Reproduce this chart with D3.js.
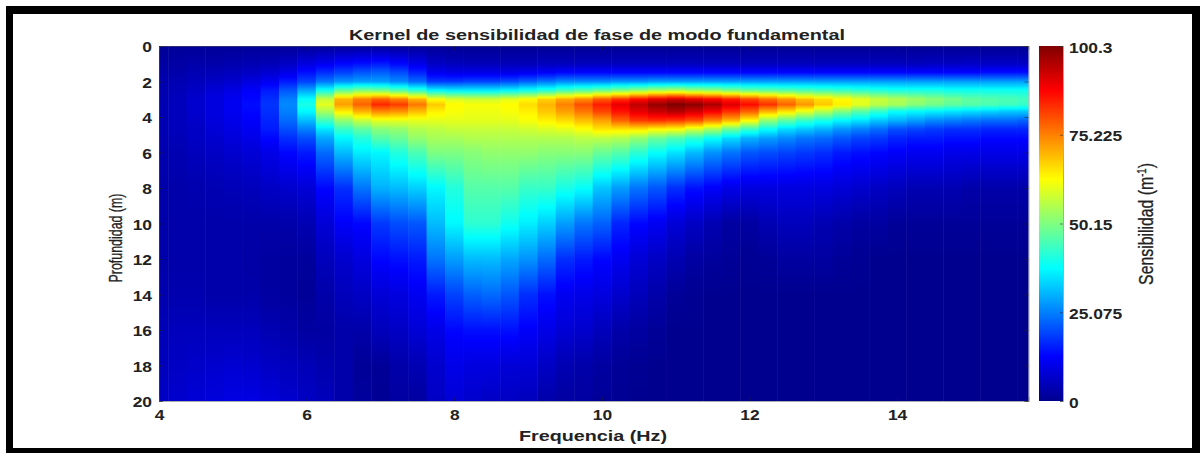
<!DOCTYPE html>
<html><head><meta charset="utf-8">
<script src="https://cdn.jsdelivr.net/npm/d3@7"></script>
<style>html,body{margin:0;padding:0;background:#fff}svg{display:block}text{font-family:"Liberation Sans",Arial,sans-serif;fill:#222}</style>
</head><body><svg id="c" width="1200" height="453"></svg>
<script>
const chartTitle = "Kernel de sensibilidad de fase de modo fundamental";
const xLabel = "Frequencia (Hz)";
const yLabel = "Profundidad (m)";
const xTicks = [4,6,8,10,12,14];
const yTicks = [0,2,4,6,8,10,12,14,16,18,20];
const barTicks = [0,25.075,50.15,75.225,100.3];
const frequencies = [4,4.25,4.5,4.75,5,5.25,5.5,5.75,6,6.25,6.5,6.75,7,7.25,7.5,7.75,8,8.25,8.5,8.75,9,9.25,9.5,9.75,10,10.25,10.5,10.75,11,11.25,11.5,11.75,12,12.25,12.5,12.75,13,13.25,13.5,13.75,14,14.25,14.5,14.75,15,15.25,15.5,15.75];
const depths = [0,1,1.5,2,2.5,3,3.3,3.7,4.2,4.7,5.2,6,8,10,12,14,16,18,20];
const sensitivity = [
[1,2,3,3.5,3.5,4,4,4,4,4,4,3.5,3,3,3,3.5,4.5,5,6],
[1,2.5,3,4,4.5,5,5,5,5,5,4.5,4,3,3,3,3.5,5,6,7],
[1,3,4,5,6,7,7,7,6.5,6,6,5,3.5,3,3,3.5,5,6.5,8],
[1,3,4.5,6,8,9,9,9,8.5,8,7,6,4,3,3,3,5,7,8.5],
[1,3.5,5,7,9.5,11,11,11,10,9.5,8.5,7,4.5,3,3,3,5,7.5,9.5],
[1,4,6,9,12,13,13.5,13,12,11,10,8,5,3,2.5,3,5,7,9.5],
[1,4.5,7.5,11,15,17,17.5,17,16,15,13,10,6,3,2,2,4,6,8.5],
[1,6,10,15,21,25,26,25,23,20,17,13,7,3,1.5,1.5,3,5,7],
[1,9,14,19,29,38,40,37,31,25,20,15,8,4,1.5,1,2,4.5,6],
[1,11,17,24,39,57,60,54,44,35,29,23,13,8,5,3,2,3.5,5],
[1,13,19,27,47,70,72,64,52,43,37,31,17,12,7,5,3,3,3],
[1,14,21,28,50,75,78,70,57,47,41,36,24,13,9,6,3,1,1.5],
[1,15,22,28,49,78,84,74,60,51,46,37,30,18,13,8,5,1,0.5],
[1,13,20,26,46,75,82,73,60,52,48,41,31,20,14,9,6,3,2],
[1,10,16,23,42,70,76,69,60,55,52,45,33,21,15,11,8,4,2],
[1,6,11,18,37,62,68,64,60,56,54,50,37,31,24,15,10,7,6],
[0.5,5,10,18,36,59,63,62,60,57,54,50,41,37,28,19,13,10,8],
[0.5,4.5,10,19,36,58,62,61,60,57,55,51,46,42,31,22,14,9,7],
[0.5,4.5,10,19,36,58,62,61,60,57,55,52,46,42,31,23,14,9,6],
[0.5,4.5,10,20,37,60,63,62,60,57,55,52,46,39,29,21,14,8,6],
[0.5,4.5,11,22,39,63,66,64,62,58,55,52,43,36,27,17,12,8,5],
[0.5,5,12,24,41,67,70,68,64,59,55,51,43,33,23,14,10,6,3],
[0.5,5,13,26,44,71,75,72,66,60,55,51,40,28,17,11,8,4,2],
[0.5,5,13,26,46,74,80,76,69,62,56,51,38,24,15,10,7,3,2],
[0.5,5,13,26,48,79,85,81,72,65,56,48,32,22,13,9,5,2,1],
[0.5,5,13,27,50,83,90,86,78,65,55,46,28,16,11,7,3,1,0.5],
[0.5,5,13,27,52,87,94,90,82,65,52,42,24,13,8,5,2,0.5,0],
[0.5,5,13,28,54,90,98,93,83,63,48,38,21,11,6,3,1,0,0],
[0.5,5,13,28,55,92,100.3,95,82,62,45,35,17,8,4,1,0,0,0],
[0.5,5,13,28,53,90,99,92,80,58,42,31,14,6,2,0.5,0,0,0],
[0.5,5,13,28,52,88,96,88,75,54,38,27,12,4,1.5,0,0,0,0],
[0.5,5,13,28,50,85,91,83,70,48,34,24,10,2,1,0,0,0,0],
[0.5,5,13,28,48,81,87,78,63,43,30,21,9,2,0.5,0,0,0,0],
[0.5,5,13,28,47,77,83,70,52,38,28,20,9,4,1,0,0,0,0],
[0.5,5,13,28,46,73,78,65,47,34,26,19,9,5,2,0,0,0,0],
[0.5,5,13,28,45,69,73,60,43,32,24,18,9,5,2,0,0,0,0],
[0.5,5,13,28,44,66,68,55,40,30,23,17,9,4,2,0,0,0,0],
[0.5,5,13,28,43,63,64,50,37,27,21,15,8,3,1,0,0,0,0],
[0.5,5,13,28,42,60,60,46,35,25,19,14,7,2,0.5,0,0,0,0],
[0.5,5,13,28,41,57,56,42,32,23,18,13,6,2,0,0,0,0,0],
[0.5,5,13,28,40,55,54,38,30,20,16,12,5,1,0,0,0,0,0],
[0.5,5,13,28,40,53,51,37,28,19,15,11,4,1,0,0,0,0,0],
[0.5,5.5,13,28,40,51,49,36,26,18,15,11,4,1,0,0,0,0,0],
[0.5,5.5,13,28,39,49,47,35,25,17,14,10,4,1,0,0,0,0,0],
[0.5,6,13,28,39,47,46,34,24,17,14,10,3,1,0,0,0,0,0],
[0.5,6,14,28,39,46,45,33,23,16,13,10,3,1,0,0,0,0,0],
[0.5,6,14,28,39,45,44,32,23,16,13,10,3,1,0,0,0,0,0],
[0.5,6,14,28,39,44,43,32,22,16,13,10,3,1,0,0,0,0,0]
];
const jetColors = ["#00008f","#0000ff","#00ffff","#ffff00","#ff0000","#800000"];
const jetStops = [0,0.125,0.375,0.625,0.875,1];

const svg = d3.select("#c");
const defs = svg.append("defs");
const x = d3.scaleLinear().domain([4,15.78]).range([159,1028.5]);
const y = d3.scaleLinear().domain([0,20]).range([46,401]);
const vMax = 100.3;
const jet = d3.scaleLinear().domain(jetStops.map(s=>s*vMax)).range(jetColors).clamp(true);

// heat map: one rect per frequency, gradient along depth
const heat = svg.append("g").attr("style","filter:blur(0.7px)").attr("clip-path","url(#plotClip)");
defs.append("clipPath").attr("id","plotClip").append("rect")
  .attr("x",x(4)).attr("y",y(0)).attr("width",x(15.78)-x(4)).attr("height",y(20)-y(0));
const fine = d3.range(0,20.01,0.1);
frequencies.forEach((f,i)=>{
  const col = d3.scaleLinear().domain(depths).range(sensitivity[i]);
  const g = defs.append("linearGradient").attr("id","col"+i).attr("x1",0).attr("x2",0).attr("y1",0).attr("y2",1);
  fine.forEach(d=>g.append("stop").attr("offset",d/20).attr("stop-color",jet(col(d))));
  heat.append("rect").attr("x",x(f-0.125)).attr("y",y(0))
    .attr("width",x(f+0.125)-x(f-0.125)+0.5).attr("height",y(20)-y(0))
    .attr("fill",`url(#col${i})`);
});

function stretch(sel,k){ sel.each(function(){ const w=this.getComputedTextLength(); d3.select(this).attr("textLength",w*k).attr("lengthAdjust","spacingAndGlyphs"); }); }

function ax(g,dy){
  g.select(".domain").attr("stroke","#555").attr("stroke-opacity",0.5);
  g.selectAll(".tick line").attr("stroke","#222").attr("stroke-opacity",0.55);
  g.selectAll("text").style("font-size","14.5px").style("font-weight","bold").style("fill","#222").attr("transform",`translate(0,${dy||0})`);
  stretch(g.selectAll("text"),1.2);
}
const xB = svg.append("g").attr("transform",`translate(0,${y(20)})`).call(d3.axisBottom(x).tickValues(xTicks).tickFormat(d3.format("d")).tickSize(-4).tickPadding(9));
ax(xB);
const xT = svg.append("g").attr("transform",`translate(0,${y(0)})`).call(d3.axisTop(x).tickValues(xTicks).tickFormat("").tickSize(-4));
ax(xT);
const yL = svg.append("g").attr("transform",`translate(${x(4)},0)`).call(d3.axisLeft(y).tickValues(yTicks).tickFormat(d3.format("d")).tickSize(-4).tickPadding(7));
ax(yL,1);
const yR = svg.append("g").attr("transform",`translate(${x(15.78)},0)`).call(d3.axisRight(y).tickValues(yTicks).tickFormat("").tickSize(-4));
ax(yR);

// colour bar
const barY = d3.scaleLinear().domain([0,vMax]).range([401,46]);
const bg = defs.append("linearGradient").attr("id","bar").attr("x1",0).attr("x2",0).attr("y1",1).attr("y2",0);
jetStops.forEach((s,i)=>bg.append("stop").attr("offset",s).attr("stop-color",jetColors[i]));
svg.append("rect").attr("x",1039).attr("y",46).attr("width",24).attr("height",355).attr("fill","url(#bar)").attr("style","filter:blur(0.5px)");
const yBar = svg.append("g").attr("transform","translate(1063,0)").call(d3.axisRight(barY).tickValues(barTicks).tickFormat(d=>String(d)).tickSize(-3).tickPadding(6));
ax(yBar,1.5);

// frame
const frame = svg.append("g").attr("fill","#000");
frame.append("rect").attr("x",6).attr("y",6).attr("width",1194).attr("height",8);
frame.append("rect").attr("x",6).attr("y",6).attr("width",7).attr("height",447);
frame.append("rect").attr("x",1192).attr("y",6).attr("width",8).attr("height",447);
frame.append("rect").attr("x",6).attr("y",448).attr("width",1194).attr("height",5);

// text
svg.append("text").attr("x",597).attr("y",40).attr("text-anchor","middle").style("font-weight","bold").style("font-size","14.5px").text(chartTitle).attr("textLength",496).attr("lengthAdjust","spacingAndGlyphs");
svg.append("text").attr("x",593).attr("y",440.5).attr("text-anchor","middle").style("font-weight","bold").style("font-size","15px").text(xLabel).attr("textLength",148).attr("lengthAdjust","spacingAndGlyphs");
function fitRot(el,cx,cy,len){
  const w = el.node().getComputedTextLength();
  el.attr("text-anchor","middle").attr("transform",`translate(${cx},${cy}) rotate(-90) scale(${len/w},1)`)
    .style("stroke","#222").style("stroke-width","0.3px");
}
const yl = svg.append("text").style("font-size","19px").text(yLabel);
fitRot(yl,122,238,89);
const sl = svg.append("text").style("font-size","20px");
sl.append("tspan").text("Sensibilidad (m");
sl.append("tspan").attr("dy",-7).style("font-size","12px").text("-1");
sl.append("tspan").attr("dy",7).text(")");
fitRot(sl,1153,224,122);
</script></body></html>
